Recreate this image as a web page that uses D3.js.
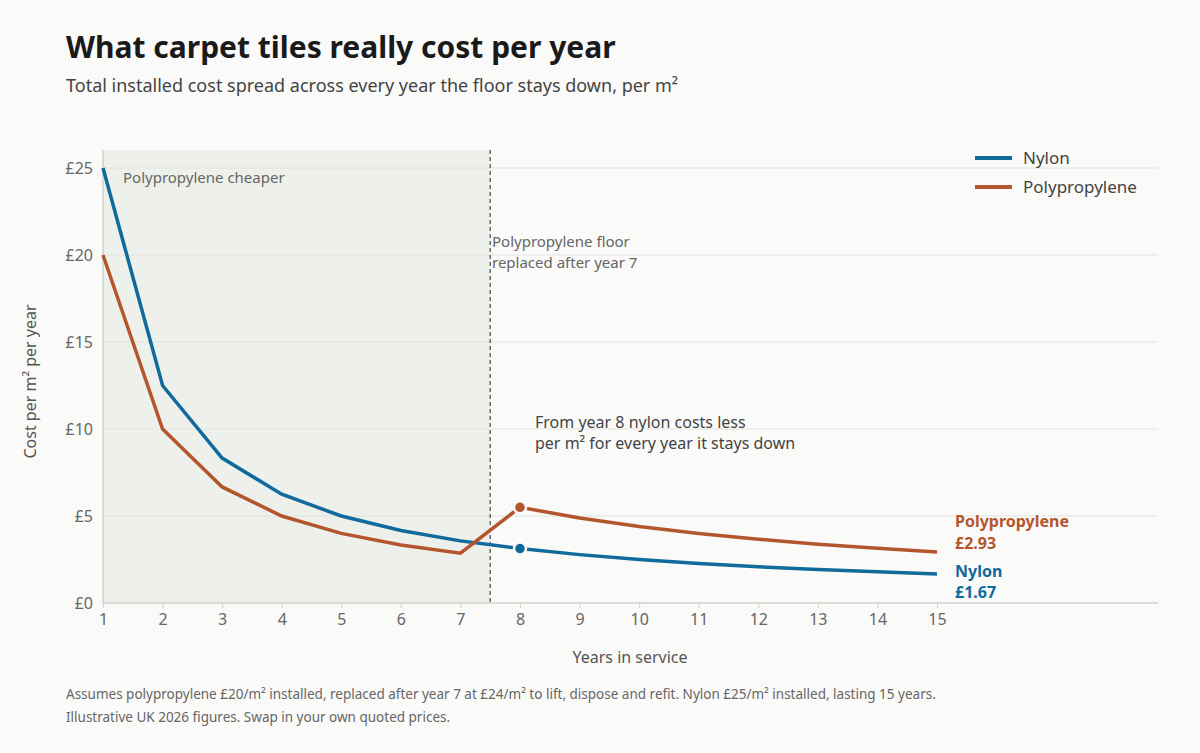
<!DOCTYPE html>
<html><head><meta charset="utf-8">
<script src="https://cdn.jsdelivr.net/npm/d3@7"></script>
<style>
body{margin:0;background:#fafaf8;font-family:"Noto Sans",sans-serif;}
</style></head><body><div id="chart"></div>
<script>
// data
const years = [1,2,3,4,5,6,7,8,9,10,11,12,13,14,15];
const nylon = [25,12.5,8.33,6.25,5,4.17,3.57,3.13,2.78,2.5,2.27,2.08,1.92,1.79,1.67];
const polyprop = [20,10,6.67,5,4,3.33,2.86,5.5,4.89,4.4,4,3.67,3.38,3.14,2.93];
const yTicks = [0,5,10,15,20,25];
const NYLON = "#106a9c", PP = "#b4562d";

const svg = d3.select("#chart").append("svg").attr("width",1200).attr("height",753);
svg.append("rect").attr("width",1200).attr("height",753).attr("fill","#fafaf8");

const x = d3.scaleLinear().domain([1,15]).range([103,937]);
const y = d3.scaleLinear().domain([0,25]).range([603,168]);

// shaded region
svg.append("rect").attr("x",x(1)).attr("y",150).attr("width",x(7.5)-x(1)).attr("height",y(0)-150)
  .attr("fill","#eef1eb");

// grid
svg.selectAll(".grid").data(yTicks.slice(1)).enter().append("line")
  .attr("x1",x(1)).attr("x2",1158).attr("y1",d=>y(d)).attr("y2",d=>y(d))
  .attr("stroke","#e2e2df").attr("stroke-width",1);

// axes
const xAxis = svg.append("g").attr("transform",`translate(0,${y(0)})`)
  .call(d3.axisBottom(x).tickValues(years).tickSize(5).tickSizeOuter(0));
xAxis.select(".domain").remove();
svg.append("line").attr("x1",x(1)).attr("x2",1158).attr("y1",y(0)).attr("y2",y(0)).attr("stroke","#cfd1cd").attr("stroke-width",1.5);
xAxis.selectAll(".tick line").attr("stroke","#cfd1cd");
xAxis.selectAll("text").attr("fill","#666").style("font-size","16px").style("font-family","Noto Sans").attr("dy","0.85em");

const yAxis = svg.append("g").attr("transform",`translate(${x(1)},0)`)
  .call(d3.axisLeft(y).tickValues(yTicks).tickFormat(d=>"£"+d).tickSize(0));
yAxis.select(".domain").remove();
svg.append("line").attr("x1",x(1)).attr("x2",x(1)).attr("y1",150).attr("y2",y(0)).attr("stroke","#cfd1cd").attr("stroke-width",1.5);
yAxis.selectAll("text").attr("fill","#666").style("font-size","16px").style("font-family","Noto Sans").attr("x",-10);

// dashed divider
svg.append("line").attr("x1",x(7.5)).attr("x2",x(7.5)).attr("y1",150).attr("y2",y(0))
  .attr("stroke","#555").attr("stroke-dasharray","4,3").attr("stroke-width",1.3);

const line = d3.line().x((d,i)=>x(years[i])).y(d=>y(d));
svg.append("path").attr("d",line(nylon)).attr("fill","none").attr("stroke",NYLON).attr("stroke-width",3.5);
svg.append("path").attr("d",line(polyprop)).attr("fill","none").attr("stroke",PP).attr("stroke-width",3.5);

// markers at year 8
[[nylon,NYLON],[polyprop,PP]].forEach(([s,c])=>{
  svg.append("circle").attr("cx",x(8)).attr("cy",y(s[7])).attr("r",6)
    .attr("fill",c).attr("stroke","#fafaf8").attr("stroke-width",2.5);
});

const t = (xx,yy,txt,o={})=>svg.append("text").attr("x",xx).attr("y",yy).text(txt)
  .attr("fill",o.fill||"#444").style("font-size",(o.size||15)+"px")
  .style("font-weight",o.weight||400).attr("text-anchor",o.anchor||"start");

t(66,58,"What carpet tiles really cost per year",{size:30,weight:700,fill:"#1a1a1a"});
t(66,92,"Total installed cost spread across every year the floor stays down, per m²",{size:18,fill:"#444"});
t(123,183,"Polypropylene cheaper",{fill:"#666"});
t(492,247,"Polypropylene floor",{fill:"#666"});
t(492,268,"replaced after year 7",{fill:"#666"});
t(535,428,"From year 8 nylon costs less",{size:16});
t(535,449,"per m² for every year it stays down",{size:16});

t(955,527,"Polypropylene",{size:16,weight:700,fill:PP});
t(955,549,"£"+polyprop[14].toFixed(2),{size:16,weight:700,fill:PP});
t(955,577,"Nylon",{size:16,weight:700,fill:NYLON});
t(955,598,"£"+nylon[14].toFixed(2),{size:16,weight:700,fill:NYLON});

t(630,663,"Years in service",{size:16,fill:"#555",anchor:"middle"});
svg.append("text").attr("transform",`translate(36,${(y(0)+150)/2+5}) rotate(-90)`)
  .attr("text-anchor","middle").attr("fill","#555").style("font-size","16px").text("Cost per m² per year");

// legend
[["Nylon",NYLON],["Polypropylene",PP]].forEach(([n,c],i)=>{
  svg.append("line").attr("x1",975).attr("x2",1012).attr("y1",158+i*29).attr("y2",158+i*29)
    .attr("stroke",c).attr("stroke-width",4);
  t(1023,164+i*29,n,{size:17,fill:"#444"});
});

t(66,699,"Assumes polypropylene £20/m² installed, replaced after year 7 at £24/m² to lift, dispose and refit.  Nylon £25/m² installed, lasting 15 years.",{size:13.5,fill:"#666"});
t(66,722,"Illustrative UK 2026 figures. Swap in your own quoted prices.",{size:13.5,fill:"#666"});
</script></body></html>
